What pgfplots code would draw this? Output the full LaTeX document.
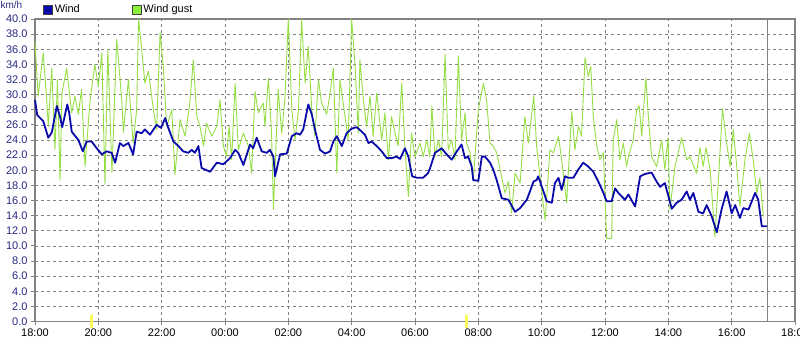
\documentclass[border=0pt]{standalone}
\usepackage{pgfplots}
\usepackage{pgfplotstable}
\pgfplotsset{compat=1.18}
\usepackage{fontspec}
\setmainfont{Liberation Sans}
\definecolor{windblue}{RGB}{10,10,170}
\definecolor{gustgreen}{RGB}{150,222,70}
\definecolor{gustlegend}{RGB}{140,240,60}
\definecolor{labnavy}{RGB}{40,40,130}
\definecolor{gridgray}{RGB}{128,128,128}
\definecolor{framegray}{RGB}{130,130,130}
\definecolor{sunyellow}{RGB}{250,250,90}

\pgfplotstableread{
h v
0.00 29.3
0.07 27.3
0.26 26.5
0.42 24.3
0.53 25.0
0.69 28.5
0.79 27.1
0.86 25.7
1.02 28.7
1.08 27.6
1.16 25.1
1.37 24.0
1.51 22.5
1.63 23.8
1.79 23.8
1.95 22.9
2.11 22.1
2.26 22.5
2.42 22.3
2.53 21.0
2.68 23.6
2.79 23.2
2.95 23.6
3.10 22.1
3.21 25.1
3.37 24.9
3.47 25.4
3.63 24.7
3.84 26.0
3.98 25.6
4.11 26.9
4.21 25.6
4.37 23.8
4.53 23.2
4.68 22.5
4.84 22.3
4.95 22.7
5.05 22.3
5.16 23.2
5.26 20.3
5.53 19.8
5.74 21.0
5.95 20.8
6.16 21.6
6.32 22.7
6.42 22.3
6.58 20.7
6.79 23.4
6.89 22.9
7.00 24.3
7.16 22.5
7.32 22.3
7.42 22.7
7.53 21.8
7.58 19.2
7.74 22.1
7.95 22.2
8.11 24.5
8.26 24.9
8.37 24.7
8.47 25.4
8.63 28.7
8.74 27.4
8.84 25.4
9.00 22.7
9.16 22.2
9.32 22.5
9.42 23.8
9.53 24.5
9.69 23.2
9.84 24.9
10.00 25.5
10.16 25.7
10.32 25.1
10.42 24.7
10.53 23.6
10.63 23.8
10.79 23.2
10.95 22.5
11.11 21.6
11.26 21.6
11.42 21.8
11.53 21.5
11.68 22.9
11.79 21.8
11.91 19.2
12.06 19.0
12.25 19.0
12.41 19.6
12.47 20.2
12.63 22.3
12.84 22.9
13.00 22.1
13.16 21.4
13.32 22.5
13.47 23.4
13.58 21.6
13.68 21.8
13.79 20.5
13.84 18.7
14.00 18.6
14.11 21.8
14.21 21.8
14.37 21.0
14.47 20.1
14.58 18.7
14.74 16.3
14.95 16.1
15.16 14.5
15.32 15.0
15.53 16.1
15.63 17.2
15.74 18.5
15.84 18.7
15.89 19.2
16.00 17.9
16.16 15.9
16.32 15.7
16.42 18.3
16.53 19.0
16.63 17.4
16.74 19.2
16.84 19.0
17.00 19.0
17.16 20.1
17.31 21.0
17.47 20.5
17.63 19.8
17.79 18.5
17.95 17.0
18.05 15.9
18.21 15.9
18.32 17.6
18.42 17.0
18.63 16.1
18.74 16.8
18.95 15.2
19.11 19.2
19.26 19.5
19.47 19.7
19.63 18.5
19.74 17.8
19.89 18.3
20.11 14.9
20.26 15.7
20.42 16.1
20.58 17.2
20.68 16.1
20.79 17.0
20.95 14.5
21.10 14.3
21.21 15.4
21.37 13.9
21.53 11.8
21.68 14.8
21.84 17.2
22.00 14.3
22.11 15.4
22.26 13.7
22.37 15.0
22.53 14.8
22.74 17.0
22.84 16.1
22.95 12.6
23.11 12.6
}\windtable

\pgfplotstableread{
h v
0.00 37.0
0.10 29.8
0.26 35.5
0.37 29.3
0.42 25.8
0.53 33.5
0.63 22.7
0.71 32.0
0.79 18.7
0.85 30.2
1.00 33.5
1.16 27.6
1.26 29.8
1.37 27.4
1.47 30.7
1.58 20.5
1.74 29.3
1.89 34.0
2.00 31.1
2.11 35.5
2.21 18.1
2.30 36.0
2.43 19.7
2.58 37.3
2.74 29.3
2.79 25.0
2.95 32.0
3.10 23.6
3.21 28.0
3.27 40.0
3.37 36.0
3.47 31.5
3.58 33.1
3.74 28.0
3.84 25.4
3.95 38.2
4.05 33.7
4.16 25.8
4.32 28.0
4.42 19.4
4.58 26.7
4.74 24.5
4.89 28.9
5.00 34.6
5.11 27.1
5.21 25.8
5.32 23.2
5.42 26.2
5.58 24.5
5.74 25.8
5.84 29.3
5.95 23.2
6.05 21.8
6.13 25.8
6.21 21.4
6.32 31.5
6.42 22.7
6.58 24.9
6.74 23.2
6.84 19.6
6.95 30.4
7.05 27.6
7.21 28.9
7.26 25.8
7.37 32.2
7.47 24.9
7.53 14.8
7.68 30.7
7.79 24.9
7.89 29.3
8.00 40.0
8.11 28.0
8.21 24.0
8.32 28.0
8.42 40.0
8.53 31.5
8.63 36.4
8.74 28.0
8.84 24.5
8.95 32.0
9.05 28.9
9.21 27.4
9.32 30.2
9.42 33.5
9.53 19.6
9.63 32.0
9.79 27.1
9.89 24.0
10.00 40.0
10.11 33.7
10.21 24.9
10.26 34.6
10.37 29.3
10.47 25.8
10.58 29.8
10.68 24.5
10.79 30.2
10.95 24.0
11.05 27.6
11.16 21.4
11.26 27.1
11.37 24.9
11.47 23.2
11.58 31.5
11.68 23.2
11.79 16.5
11.89 24.9
12.00 21.8
12.16 23.6
12.26 21.8
12.37 24.0
12.47 21.8
12.53 28.5
12.63 21.8
12.74 24.0
12.84 21.8
12.95 35.3
13.05 22.7
13.16 24.0
13.26 21.4
13.37 35.1
13.47 24.0
13.58 27.6
13.63 23.6
13.74 22.3
13.84 18.7
14.00 28.0
14.16 31.5
14.26 29.3
14.37 23.6
14.47 23.2
14.58 22.3
14.84 17.0
14.95 18.5
15.05 14.3
15.16 19.6
15.32 18.3
15.47 27.1
15.58 23.6
15.75 29.8
15.84 23.2
15.98 18.0
16.11 13.4
16.26 22.7
16.37 22.3
16.53 24.5
16.63 21.4
16.79 15.7
16.95 27.8
17.05 22.7
17.16 25.8
17.26 24.5
17.37 34.9
17.47 32.4
17.55 33.7
17.63 27.1
17.74 23.2
17.84 21.4
17.95 22.3
18.05 11.0
18.21 11.0
18.26 24.0
18.37 26.7
18.47 21.4
18.58 23.6
18.68 20.5
18.74 21.8
18.89 24.0
19.00 28.0
19.08 28.5
19.16 24.5
19.29 32.2
19.37 27.1
19.47 21.8
19.63 20.5
19.79 24.0
19.89 20.1
19.99 24.3
20.05 14.8
20.21 20.5
20.42 24.3
20.58 21.4
20.68 21.8
20.89 19.6
21.00 23.0
21.10 20.5
21.19 23.0
21.32 20.1
21.47 11.2
21.60 20.0
21.71 28.2
21.84 23.6
21.95 20.5
22.05 25.4
22.16 20.5
22.26 15.2
22.42 21.4
22.56 24.9
22.68 21.4
22.79 17.0
22.89 19.0
23.00 13.9
}\gusttable

\begin{document}
\begin{tikzpicture}
\begin{axis}[
  at={(0pt,0pt)}, anchor=south west,
  scale only axis, width=760pt, height=302.5pt,
  xmin=0, xmax=24, ymin=0, ymax=40,
  clip=false,
  xtick={0,2,...,24},
  xticklabels={18:00,20:00,22:00,00:00,02:00,04:00,06:00,08:00,10:00,12:00,14:00,16:00,18:00},
  ytick={0,2,...,40},
  yticklabel style={/pgf/number format/fixed, /pgf/number format/fixed zerofill, /pgf/number format/precision=1, /pgf/number format/assume math mode=true},
  yticklabel style={text=labnavy, font=\fontsize{11}{12}\selectfont},
  xticklabel style={text=black, font=\fontsize{11}{12}\selectfont},
  tick align=outside, xtick pos=bottom, ytick pos=left,
  major tick length=4pt,
  tick style={draw=framegray, line width=0.8pt},
  axis line style={draw=framegray, line width=1.3pt},
  grid=major,
  major grid style={draw=gridgray, dash pattern=on 3pt off 3pt, line width=0.7pt},
  legend columns=2,
  legend style={at={(axis description cs:0,1)}, anchor=west, xshift=8pt, yshift=9.5pt,
    draw=none, fill=none, inner sep=0pt, font=\fontsize{11}{12}\selectfont,
    /tikz/every even column/.append style={column sep=50pt}},
  legend image code/.code={\draw[#1, line width=0.6pt] (0pt,-4.5pt) rectangle (9pt,4.5pt);},
]
\addlegendimage{draw=black!75, fill=windblue}
\addlegendentry{Wind}
\addlegendimage{draw=black!75, fill=gustlegend}
\addlegendentry{Wind gust}

\addplot[forget plot, gustgreen, line width=0.9pt, line join=round] table[x=h, y=v] {\gusttable};
\addplot[forget plot, windblue, line width=1.8pt, line join=round] table[x=h, y=v] {\windtable};
\addplot[forget plot, framegray, line width=0.9pt] coordinates {(23.12,0) (23.12,40)};
\addplot[forget plot, sunyellow, line width=3pt] coordinates {(1.77,-0.8) (1.77,0.9)};
\addplot[forget plot, sunyellow, line width=3pt] coordinates {(13.64,-0.8) (13.64,0.9)};
\node[text=labnavy, font=\fontsize{10}{11}\selectfont, anchor=center] at (axis description cs:-0.031,1.047) {km/h};
\end{axis}
\pgfresetboundingbox
\path (-35pt,-20.5pt) rectangle (765pt,321.5pt);
\end{tikzpicture}
\end{document}
